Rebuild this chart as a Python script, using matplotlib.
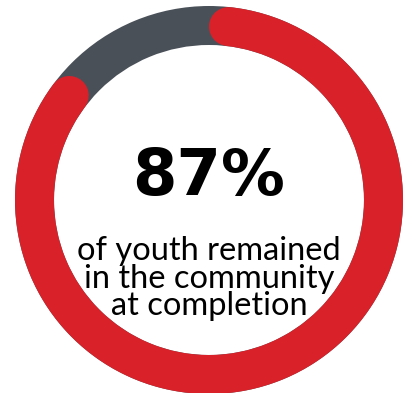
import numpy as np
import matplotlib
matplotlib.use("Agg")
import matplotlib.pyplot as plt
from matplotlib.patches import Wedge
from matplotlib import font_manager

# Share of youth that stayed in the community
share_pct = 87
headline = f"{share_pct}%"
caption_lines = ["of youth remained", "in the community", "at completion"]

RED = "#d92129"
GRAY = "#4a5058"

W, H, DPI = 407, 393, 100
fig = plt.figure(figsize=(W / DPI, H / DPI), dpi=DPI)
ax = fig.add_axes([0, 0, 1, 1])
ax.set_xlim(0, W)
ax.set_ylim(H, 0)
ax.set_aspect("equal")
ax.axis("off")

cx, cy = 209, 200
r_out, r_in = 194, 155
r_mid = (r_out + r_in) / 2
band = r_out - r_in

# background track
ax.add_patch(Wedge((cx, cy), r_out, 0, 360, width=band, facecolor=GRAY, edgecolor="none"))

# progress arc, clockwise from 12 o'clock, round caps kept inside the span
span = 2 * np.pi * share_pct / 100
cap = band / 2 / r_mid
theta = np.linspace(cap, span - cap, 400)
xs = cx + r_mid * np.sin(theta)
ys = cy - r_mid * np.cos(theta)
ax.plot(xs, ys, color=RED, lw=band * 72 / DPI, solid_capstyle="round")

names = {f.name for f in font_manager.fontManager.ttflist}
ax.text(cx, 195, headline, ha="center", va="baseline", fontsize=46,
        fontweight="bold", family="DejaVu Sans", color="#000000")

body_font = "Lato" if "Lato" in names else "DejaVu Sans"
for i, line in enumerate(caption_lines):
    ax.text(cx, 260 + i * 27.5, line, ha="center", va="baseline", fontsize=23.5,
            fontweight="normal", family=body_font, color="#000000")

fig.savefig("out.png", dpi=DPI, facecolor="white")
